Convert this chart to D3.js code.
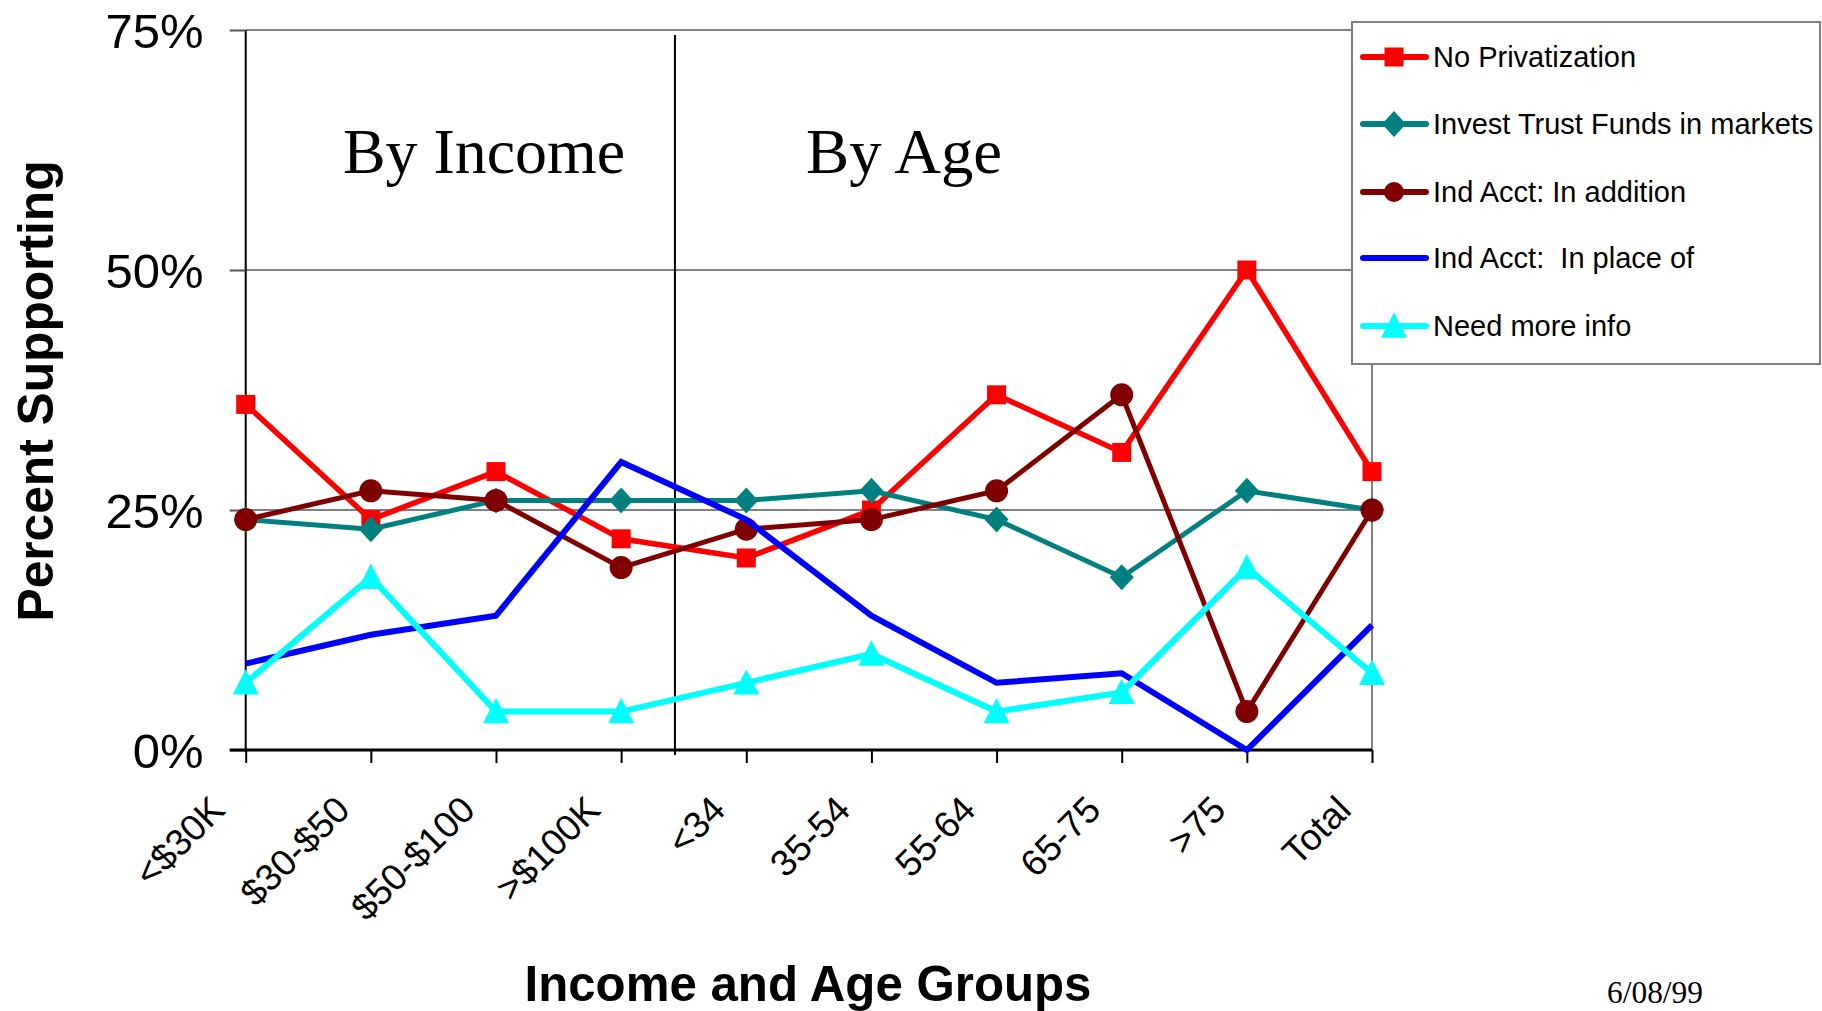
<!DOCTYPE html>
<html>
<head>
<meta charset="utf-8">
<script src="https://cdn.jsdelivr.net/npm/d3@7"></script>
<style>
  html, body { margin: 0; padding: 0; background: #fff; }
  svg { display: block; }
  text { white-space: pre; }
</style>
</head>
<body>
<svg id="chart" width="1822" height="1011"></svg>
<script>
// ---- data ----
const categories = ["<$30K", "$30-$50", "$50-$100", ">$100K", "<34", "35-54", "55-64", "65-75", ">75", "Total"];
const noPrivatization = [36, 24, 29, 22, 20, 25, 37, 31, 50, 29];
const investTrustFunds = [24, 23, 26, 26, 26, 27, 24, 18, 27, 25];
const indAcctAddition = [24, 27, 26, 19, 23, 24, 27, 37, 4, 25];
const indAcctPlaceOf = [9, 12, 14, 30, 24, 14, 7, 8, 0, 13];
const needMoreInfo = [7, 18, 4, 4, 7, 10, 4, 6, 19, 8];
const yTickValues = [0, 25, 50, 75];
const seriesNames = ["No Privatization", "Invest Trust Funds in markets", "Ind Acct: In addition", "Ind Acct:  In place of", "Need more info"];
const groupLabels = ["By Income", "By Age"];
const yTitle = "Percent Supporting";
const xTitle = "Income and Age Groups";
const dateNote = "6/08/99";

(function () {
// ---- layout ----
const svg = d3.select("#chart");
const SANS = "'Liberation Sans', Arial, Helvetica, sans-serif";
const SERIF = "'Liberation Serif', 'Times New Roman', serif";
const pLeft = 245.7, pRight = 1372, pTop = 30, pBottom = 750;

const x = d3.scalePoint().domain(categories).range([pLeft, pRight]);
const y = d3.scaleLinear().domain([0, 75]).range([pBottom, pTop]);

// gridlines (gray)
svg.append("g").selectAll("line").data(yTickValues.filter(v => v > 0)).join("line")
  .attr("x1", pLeft).attr("x2", pRight)
  .attr("y1", d => y(d)).attr("y2", d => y(d))
  .attr("stroke", "#808080").attr("stroke-width", 2);
// right border
svg.append("line").attr("x1", pRight).attr("x2", pRight).attr("y1", pTop).attr("y2", pBottom)
  .attr("stroke", "#808080").attr("stroke-width", 2);

// y axis
const yAxis = svg.append("g").attr("transform", `translate(${pLeft},0)`)
  .call(d3.axisLeft(y).tickValues(yTickValues).tickFormat(d => d + "%").tickSize(16).tickPadding(26));
yAxis.select(".domain").attr("d", `M0,${pTop}V${pBottom}`).attr("stroke", "#000").attr("stroke-width", 2);
yAxis.selectAll(".tick line").attr("stroke", "#555").attr("stroke-width", 2);
yAxis.selectAll(".tick text").attr("font-family", SANS).attr("font-size", 49).attr("fill", "#000")
  .attr("dy", "0.36em");

// x axis
const xAxis = svg.append("g").attr("transform", `translate(0,${pBottom})`)
  .call(d3.axisBottom(x).tickSize(13).tickFormat(""));
xAxis.select(".domain").attr("d", `M${pLeft - 16},0H${pRight}`).attr("stroke", "#000").attr("stroke-width", 3);
xAxis.selectAll(".tick line").attr("stroke", "#000").attr("stroke-width", 2);

// rotated category labels
svg.append("g").selectAll("text").data(categories).join("text")
  .attr("transform", d => `translate(${x(d) - 19},${pBottom + 62}) rotate(-45)`)
  .attr("text-anchor", "end")
  .attr("font-family", SANS).attr("font-size", 37).attr("fill", "#000")
  .text(d => d);

// divider between income and age groups
const divX = x(">$100K") + 0.43 * x.step();
svg.append("line").attr("x1", divX).attr("x2", divX).attr("y1", pTop + 5).attr("y2", pBottom + 5)
  .attr("stroke", "#000").attr("stroke-width", 2);

// group labels
svg.append("text").attr("x", 343).attr("y", 173).attr("font-family", SERIF).attr("font-size", 64)
  .attr("textLength", 282).attr("lengthAdjust", "spacingAndGlyphs").text(groupLabels[0]);
svg.append("text").attr("x", 806).attr("y", 173).attr("font-family", SERIF).attr("font-size", 64)
  .attr("textLength", 196).attr("lengthAdjust", "spacingAndGlyphs").text(groupLabels[1]);

// ---- series ----
function squarePath(s) { const h = s / 2; return `M${-h},${-h}H${h}V${h}H${-h}Z`; }
function diamondPath(w, h) { return `M0,${-h}L${w},0L0,${h}L${-w},0Z`; }
function trianglePath(w, h) { return `M0,${-h * 1.05}L${w},${h * 0.9}L${-w},${h * 0.9}Z`; }

const series = [
  { name: seriesNames[0], values: noPrivatization, color: "#FF0000", width: 5.5, marker: () => squarePath(19) },
  { name: seriesNames[1], values: investTrustFunds, color: "#008080", width: 5, marker: () => diamondPath(12, 13) },
  { name: seriesNames[2], values: indAcctAddition, color: "#800000", width: 5, marker: "circle" },
  { name: seriesNames[3], values: indAcctPlaceOf, color: "#0000FF", width: 6, marker: null },
  { name: seriesNames[4], values: needMoreInfo, color: "#00FFFF", width: 6, marker: () => trianglePath(13, 13) }
];

const line = d3.line().x(d => x(d.c)).y(d => y(d.v));

series.forEach(s => {
  const pts = categories.map((c, i) => ({ c, v: s.values[i] }));
  const g = svg.append("g");
  g.append("path").attr("d", line(pts)).attr("fill", "none")
    .attr("stroke", s.color).attr("stroke-width", s.width).attr("stroke-linejoin", "miter");
  if (s.marker === "circle") {
    g.selectAll("circle").data(pts).join("circle")
      .attr("cx", d => x(d.c)).attr("cy", d => y(d.v)).attr("r", 11.5).attr("fill", s.color);
  } else if (s.marker) {
    g.selectAll("path.m").data(pts).join("path").attr("class", "m")
      .attr("transform", d => `translate(${x(d.c)},${y(d.v)})`)
      .attr("d", s.marker()).attr("fill", s.color);
  }
});

// ---- legend ----
const legend = svg.append("g");
legend.append("rect").attr("x", 1352).attr("y", 22).attr("width", 468).attr("height", 342)
  .attr("fill", "#fff").attr("stroke", "#808080").attr("stroke-width", 2);
const legendY = [57, 124, 192, 258, 326];
series.forEach((s, i) => {
  const ly = legendY[i];
  legend.append("line").attr("x1", 1363).attr("x2", 1426).attr("y1", ly).attr("y2", ly)
    .attr("stroke", s.color).attr("stroke-width", 6).attr("stroke-linecap", "round");
  if (s.marker === "circle") {
    legend.append("circle").attr("cx", 1394).attr("cy", ly).attr("r", 10).attr("fill", s.color);
  } else if (s.marker) {
    legend.append("path").attr("transform", `translate(1394,${ly})`).attr("d", s.marker()).attr("fill", s.color);
  }
  legend.append("text").attr("x", 1433).attr("y", ly).attr("dy", "0.35em")
    .attr("font-family", SANS).attr("font-size", 29).attr("fill", "#000").text(s.name);
});

// ---- titles ----
svg.append("text").attr("transform", `translate(53,391) rotate(-90)`).attr("text-anchor", "middle")
  .attr("font-family", SANS).attr("font-weight", "bold").attr("font-size", 50)
  .attr("textLength", 461).attr("lengthAdjust", "spacingAndGlyphs").text(yTitle);
svg.append("text").attr("x", 808).attr("y", 1001).attr("text-anchor", "middle")
  .attr("font-family", SANS).attr("font-weight", "bold").attr("font-size", 50)
  .attr("textLength", 567).attr("lengthAdjust", "spacingAndGlyphs").text(xTitle);
svg.append("text").attr("x", 1607).attr("y", 1003)
  .attr("font-family", SERIF).attr("font-size", 31)
  .attr("textLength", 96).attr("lengthAdjust", "spacingAndGlyphs").text(dateNote);
})();
</script>
</body>
</html>
